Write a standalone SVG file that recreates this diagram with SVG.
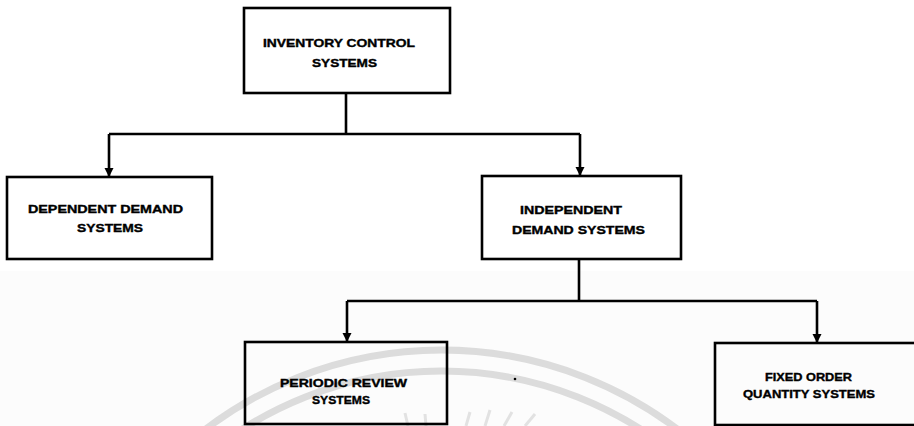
<svg xmlns="http://www.w3.org/2000/svg" width="914" height="426" viewBox="0 0 914 426">
  <defs>
    <marker id="arr" viewBox="0 0 10 10" refX="10" refY="5" markerWidth="3.6" markerHeight="4" orient="auto" markerUnits="strokeWidth">
      <path d="M0,0 L10,5 L0,10 Z" fill="#000"/>
    </marker>
    <style>
      .box { fill: none; stroke: #000; stroke-width: 2.6; }
      .lbl { font-family: "Liberation Sans", Arial, sans-serif; font-weight: bold; font-size: 10.5px; fill: #000; stroke: #000; stroke-width: 0.35; }
      .wire { fill: none; stroke: #000; stroke-width: 2.6; }
      .wm { fill: none; stroke: #dcdcdc; }
    </style>
  </defs>
  <rect x="0" y="0" width="914" height="426" fill="#fff"/>
  <rect x="0" y="271" width="914" height="155" fill="#fcfcfc"/>

  <g id="watermark">
    <circle class="wm" cx="441.5" cy="740.6" r="390.6" stroke-width="7"/>
    <circle class="wm" cx="441.5" cy="740.6" r="369.6" stroke-width="7"/>
    <g stroke="#e2e2e2" stroke-width="3">
      <line x1="470" y1="412" x2="466" y2="426"/>
      <line x1="490" y1="410" x2="485" y2="426"/>
      <line x1="512" y1="412" x2="504" y2="426"/>
      <line x1="535" y1="414" x2="525" y2="426"/>
      <line x1="425" y1="414" x2="426" y2="426"/>
      <line x1="405" y1="413" x2="408" y2="426"/>
    </g>
  </g>

  <g id="connectors">
    <path class="wire" d="M346,93 V134"/>
    <path class="wire" d="M109,134 H580"/>
    <path class="wire" d="M109,134 V177" marker-end="url(#arr)"/>
    <path class="wire" d="M580,134 V176" marker-end="url(#arr)"/>
    <path class="wire" d="M579,259 V301"/>
    <path class="wire" d="M347,301 H817"/>
    <path class="wire" d="M347,301 V342" marker-end="url(#arr)"/>
    <path class="wire" d="M817,301 V343" marker-end="url(#arr)"/>
  </g>

  <g id="inventory-control">
    <rect class="box" x="244" y="8" width="206" height="85"/>
    <text class="lbl" x="263" y="47" textLength="152" lengthAdjust="spacingAndGlyphs">INVENTORY CONTROL</text>
    <text class="lbl" x="312" y="67" textLength="65" lengthAdjust="spacingAndGlyphs">SYSTEMS</text>
  </g>

  <g id="dependent-demand">
    <rect class="box" x="7" y="177" width="205" height="82"/>
    <text class="lbl" x="28" y="213" textLength="155" lengthAdjust="spacingAndGlyphs">DEPENDENT DEMAND</text>
    <text class="lbl" x="77" y="232" textLength="66" lengthAdjust="spacingAndGlyphs">SYSTEMS</text>
  </g>

  <g id="independent-demand">
    <rect class="box" x="482" y="176" width="199" height="83"/>
    <text class="lbl" x="520" y="214" textLength="102" lengthAdjust="spacingAndGlyphs">INDEPENDENT</text>
    <text class="lbl" x="512" y="234" textLength="133" lengthAdjust="spacingAndGlyphs">DEMAND SYSTEMS</text>
  </g>

  <g id="periodic-review">
    <rect class="box" x="245" y="342" width="202" height="82"/>
    <text class="lbl" x="280" y="387" textLength="127" lengthAdjust="spacingAndGlyphs">PERIODIC REVIEW</text>
    <text class="lbl" x="312" y="404" textLength="58" lengthAdjust="spacingAndGlyphs">SYSTEMS</text>
  </g>

  <g id="fixed-order">
    <rect class="box" x="715" y="343" width="210" height="82"/>
    <text class="lbl" x="765" y="381" textLength="87" lengthAdjust="spacingAndGlyphs">FIXED ORDER</text>
    <text class="lbl" x="743" y="398" textLength="132" lengthAdjust="spacingAndGlyphs">QUANTITY SYSTEMS</text>
  </g>

  <circle cx="515" cy="379" r="1.3" fill="#000"/>
</svg>
